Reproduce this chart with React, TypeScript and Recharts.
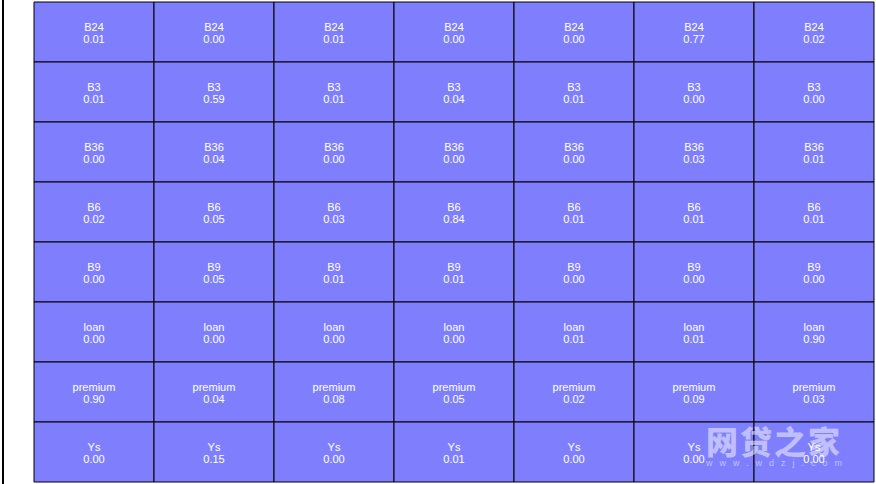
import React from 'react';
import { BarChart, Bar, XAxis, YAxis, LabelList } from 'recharts';

const rows = ['B24', 'B3', 'B36', 'B6', 'B9', 'loan', 'premium', 'Ys'];
const columns = ['c1', 'c2', 'c3', 'c4', 'c5', 'c6', 'c7'];

const b24 = [0.01, 0.0, 0.01, 0.0, 0.0, 0.77, 0.02];
const b3 = [0.01, 0.59, 0.01, 0.04, 0.01, 0.0, 0.0];
const b36 = [0.0, 0.04, 0.0, 0.0, 0.0, 0.03, 0.01];
const b6 = [0.02, 0.05, 0.03, 0.84, 0.01, 0.01, 0.01];
const b9 = [0.0, 0.05, 0.01, 0.01, 0.0, 0.0, 0.0];
const loan = [0.0, 0.0, 0.0, 0.0, 0.01, 0.01, 0.9];
const premium = [0.9, 0.04, 0.08, 0.05, 0.02, 0.09, 0.03];
const ys = [0.0, 0.15, 0.0, 0.01, 0.0, 0.0, 0.0];

const values: Record<string, number[]> = {
  B24: b24, B3: b3, B36: b36, B6: b6, B9: b9, loan, premium, Ys: ys,
};

// every cell is one grid unit tall; the value is shown as a label
const data = columns.map((c) => {
  const o: Record<string, any> = { col: c };
  rows.forEach((r) => {
    o[r] = 1;
  });
  return o;
});

const FILL = '#7f7ffd';

const cellLabel = (row: string) => (props: any) => {
  const { x, y, width, height, index } = props;
  const cx = x + width / 2;
  const cy = y + height / 2;
  return (
    <g>
      <text x={cx} y={cy - 1} textAnchor="middle" fill="#fff" fontSize={11} fontFamily="Liberation Sans, Arial">
        {row}
      </text>
      <text x={cx} y={cy + 11} textAnchor="middle" fill="#fff" fontSize={11} fontFamily="Liberation Sans, Arial">
        {values[row][index].toFixed(2)}
      </text>
    </g>
  );
};

export default function App() {
  return (
    <div style={{ position: 'absolute', left: 0, top: 0, width: 876, height: 484, background: '#fff' }}>
      <div style={{ position: 'absolute', left: 2, top: 0, width: 2, height: 484, background: '#000' }} />
      <BarChart
        width={876}
        height={484}
        data={data}
        margin={{ top: 2, right: 2, bottom: 2, left: 34 }}
        barCategoryGap={0}
      >
        <XAxis dataKey="col" hide />
        <YAxis hide reversed domain={[0, 8]} />
        {rows.map((r) => (
          <Bar key={r} dataKey={r} stackId="grid" fill={FILL} stroke="#000" strokeWidth={1} isAnimationActive={false}>
            <LabelList dataKey={r} content={cellLabel(r)} />
          </Bar>
        ))}
      </BarChart>
      <div
        style={{
          position: 'absolute',
          left: 706,
          top: 422,
          fontFamily: 'Noto Sans CJK SC',
          fontWeight: 900,
          fontSize: 32,
          color: 'rgba(255,255,255,0.5)',
          letterSpacing: 2,
          lineHeight: '36px',
          pointerEvents: 'none',
        }}
      >
        网贷之家
        <div style={{ fontSize: 9, fontFamily: 'Liberation Sans', fontWeight: 400, letterSpacing: 7, lineHeight: '10px' }}>
          www.wdzj.com
        </div>
      </div>
    </div>
  );
}
